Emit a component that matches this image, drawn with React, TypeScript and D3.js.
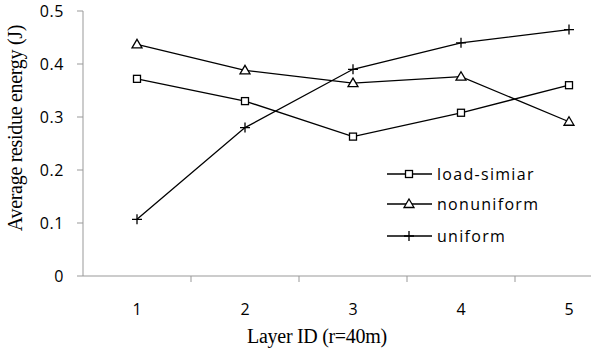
import React from "react";
import * as d3 from "d3";

const categories = ["1", "2", "3", "4", "5"];
const yTicks = [0, 0.1, 0.2, 0.3, 0.4, 0.5];
const loadSimilar = [0.372, 0.330, 0.263, 0.308, 0.360];
const nonuniform = [0.437, 0.388, 0.364, 0.376, 0.291];
const uniform = [0.107, 0.280, 0.390, 0.440, 0.465];

const series = [
  { name: "load-simiar", values: loadSimilar, marker: "square" },
  { name: "nonuniform", values: nonuniform, marker: "triangle" },
  { name: "uniform", values: uniform, marker: "plus" },
];

const W = 591, H = 351;
const left = 83, bandW = 108, top = 11, bottom = 276;

function Marker({ type, x, y }: { type: string; x: number; y: number }) {
  if (type === "square") {
    return <rect x={x - 3.5} y={y - 3.5} width={7} height={7} fill="white" stroke="black" strokeWidth={1.3} />;
  }
  if (type === "triangle") {
    return <path d={`M${x},${y - 5} L${x + 5},${y + 3.5} L${x - 5},${y + 3.5} Z`} fill="white" stroke="black" strokeWidth={1.3} />;
  }
  return <path d={`M${x - 5},${y} L${x + 5},${y} M${x},${y - 5} L${x},${y + 5}`} stroke="black" strokeWidth={1.3} />;
}

export default function App() {
  const x = d3.scaleBand().domain(categories).range([left, left + bandW * 5]);
  const y = d3.scaleLinear().domain([0, 0.5]).range([bottom, top]);
  const cx = (c: string) => (x(c) as number) + x.bandwidth() / 2;
  const line = d3.line<number>().x((_, i) => cx(categories[i])).y((d) => y(d));
  const sans = "'Open Sans', 'Noto Sans', sans-serif";
  const serif = "'Liberation Serif', 'DejaVu Serif', serif";
  const legendY = [174, 204, 236];
  return (
    <svg width={W} height={H} style={{ position: "absolute", left: 0, top: 0 }}>
      <rect width={W} height={H} fill="white" />
      <line x1={left} x2={left} y1={top} y2={bottom} stroke="#999" />
      <line x1={left} x2={W} y1={bottom} y2={bottom} stroke="#999" />
      {yTicks.map((t) => (
        <g key={t}>
          <line x1={left - 6} x2={left} y1={y(t)} y2={y(t)} stroke="#999" />
          <text x={left - 19} y={y(t)} dy="0.35em" textAnchor="end" fontFamily={sans} fontSize={16} letterSpacing={0.6}>
            {t === 0 ? "0" : t.toFixed(1)}
          </text>
        </g>
      ))}
      {categories.map((c, i) => (
        <g key={c}>
          {i > 0 && <line x1={x(c)} x2={x(c)} y1={bottom} y2={bottom + 6} stroke="#999" />}
          <text x={cx(c)} y={309} dy="0.35em" textAnchor="middle" fontFamily={sans} fontSize={16}>{c}</text>
        </g>
      ))}
      {series.map((s) => (
        <g key={s.name}>
          <path d={line(s.values) || ""} fill="none" stroke="black" strokeWidth={1.3} />
          {s.values.map((v, i) => (
            <Marker key={i} type={s.marker} x={cx(categories[i])} y={y(v)} />
          ))}
        </g>
      ))}
      {series.map((s, i) => (
        <g key={"lg" + s.name}>
          <line x1={387} x2={432} y1={legendY[i]} y2={legendY[i]} stroke="black" strokeWidth={1.3} />
          <Marker type={s.marker} x={409} y={legendY[i]} />
          <text x={437} y={legendY[i]} dy="0.35em" fontFamily={sans} fontSize={16} letterSpacing={1.3}>{s.name}</text>
        </g>
      ))}
      <text x={317} y={343} textAnchor="middle" fontFamily={serif} fontSize={20} letterSpacing={-0.3}>Layer ID (r=40m)</text>
      <text transform="translate(22,128) rotate(-90)" textAnchor="middle" fontFamily={serif} fontSize={20} letterSpacing={-0.3}>Average residue energy (J)</text>
    </svg>
  );
}
